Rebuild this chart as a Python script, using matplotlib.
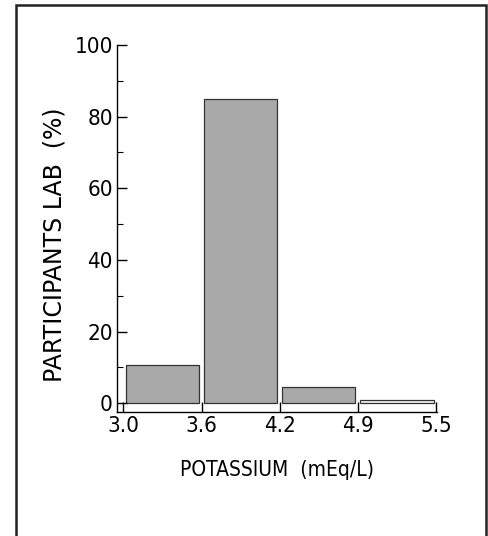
import matplotlib.pyplot as plt
from matplotlib.patches import Rectangle

# bins of potassium (mEq/L) and share of participant labs (%)
bin_edges = ["3.0", "3.6", "4.2", "4.9", "5.5"]
share = [10.6, 85.0, 4.5, 1.0]
fills = ["#a9a9a9", "#a9a9a9", "#a9a9a9", "#f4f4f4"]

fig = plt.figure(figsize=(4.88, 5.36), dpi=100)
ax = fig.add_axes([0.24, 0.231, 0.655, 0.685])

gap = 0.03
for i, (h, c) in enumerate(zip(share, fills)):
    ax.bar(i + gap, h, width=1 - 2 * gap, align="edge", color=c,
           edgecolor="#333333", linewidth=0.9)

ax.set_xlim(-0.08, 4.01)
ax.set_ylim(-2.5, 100)
ax.set_xticks(range(len(bin_edges)))
ax.set_xticklabels(bin_edges)
ax.set_yticks([0, 20, 40, 60, 80, 100])
ax.set_yticks([10, 30, 50, 70, 90], minor=True)

for s in ["top", "right"]:
    ax.spines[s].set_visible(False)
for s in ["left", "bottom"]:
    ax.spines[s].set_linewidth(1.0)

ax.tick_params(axis="both", which="major", direction="in", length=7, width=1.0, pad=3)
ax.tick_params(axis="y", which="minor", direction="in", length=4, width=0.8)
for lab in ax.get_xticklabels() + ax.get_yticklabels():
    lab.set_fontfamily("DejaVu Sans")
    lab.set_fontstretch("condensed")
    lab.set_fontsize(16)

ax.set_ylabel("PARTICIPANTS LAB  (%)", fontsize=17, family="DejaVu Sans")
ax.yaxis.set_label_coords(-0.158, 0.455)
ax.set_xlabel("POTASSIUM  (mEq/L)", fontsize=15, family="DejaVu Sans",
              fontstretch="condensed", labelpad=17)

fig.patches.append(Rectangle((16 / 488, -0.02), 470 / 488, 1.0 - 5 / 536 + 0.02,
                             transform=fig.transFigure, fill=False,
                             edgecolor="#222222", linewidth=1.8))

fig.savefig("out.png", dpi=100)
